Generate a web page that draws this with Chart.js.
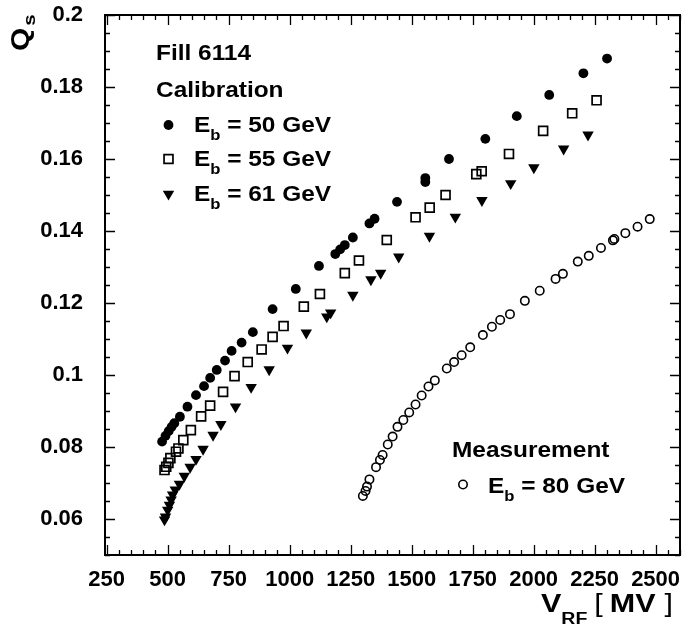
<!DOCTYPE html>
<html>
<head>
<meta charset="utf-8">
<script src="https://cdn.jsdelivr.net/npm/chart.js@4"></script>
<style>
  body { margin: 0; background: #fff; }
</style>
</head>
<body>
<canvas id="qsChart" width="688" height="630"></canvas>
<script>
// ====== data ======
// Calibration, Eb = 50 GeV
let v50 = [477,491,504,516,527,550,581,616,649,674,701,735,762,803,849,930,1025,1120,1187,1207,1226,1259,1327,1348,1440,1556,1556,1653,1802,1931,2064,2204,2301];
let q50 = [0.0815,0.0831,0.0844,0.0856,0.0866,0.0884,0.0912,0.0944,0.0969,0.0992,0.1014,0.1040,0.1067,0.1090,0.1119,0.1183,0.1239,0.1303,0.1336,0.1349,0.1361,0.1382,0.1421,0.1434,0.1481,0.1547,0.1536,0.1600,0.1656,0.1719,0.1778,0.1838,0.1879];

// Calibration, Eb = 55 GeV
let v55 = [487,494,503,511,534,544,564,595,637,674,727,774,828,885,930,975,1058,1124,1226,1284,1398,1516,1574,1639,1765,1787,1899,2039,2158,2258];
let q55 = [0.0736,0.0745,0.0756,0.0769,0.0787,0.0796,0.0819,0.0847,0.0885,0.0915,0.0953,0.0997,0.1036,0.1071,0.1106,0.1136,0.1190,0.1225,0.1283,0.1318,0.1375,0.1438,0.1465,0.1500,0.1558,0.1566,0.1614,0.1678,0.1727,0.1763];

// Calibration, Eb = 61 GeV
let v61 = [487,491,500,507,514,520,531,548,568,592,616,645,686,718,778,842,916,991,1068,1152,1168,1259,1333,1373,1447,1573,1679,1788,1906,2001,2123,2223];
let q61 = [0.0598,0.0606,0.0625,0.0639,0.0653,0.0667,0.0681,0.0697,0.0719,0.0744,0.0766,0.0794,0.0833,0.0863,0.0912,0.0966,0.1015,0.1075,0.1117,0.1162,0.1173,0.1222,0.1265,0.1283,0.1328,0.1386,0.1439,0.1485,0.1532,0.1576,0.1628,0.1667];

// Measurement, Eb = 80 GeV
let v80 = [1300,1311,1317,1327,1354,1370,1381,1402,1422,1442,1466,1490,1516,1541,1569,1595,1644,1674,1705,1740,1792,1829,1863,1903,1964,2025,2090,2120,2181,2226,2276,2325,2331,2376,2426,2476];
let q80 = [0.0664,0.0678,0.0690,0.0710,0.0744,0.0764,0.0778,0.0807,0.0829,0.0856,0.0875,0.0896,0.0918,0.0943,0.0968,0.0985,0.1018,0.1036,0.1055,0.1077,0.1111,0.1134,0.1153,0.1169,0.1206,0.1234,0.1267,0.1281,0.1315,0.1331,0.1353,0.1374,0.1378,0.1394,0.1412,0.1433];

// axis ticks
let xTicks = [250,500,750,1000,1250,1500,1750,2000,2250,2500];
let yTicks = [0.06,0.08,0.1,0.12,0.14,0.16,0.18,0.2];
let xMinorStep = 50;
let yMinorStep = 0.005;

const FONT = '"Liberation Sans", Arial, Helvetica, sans-serif';

function pts(xs, ys) {
  return xs.map((x, i) => ({ x: x, y: ys[i] }));
}

// marker styles shared by datasets and the in-plot legend
const mk50 = { pointStyle: 'circle', radius: 4.9, rotation: 0, borderWidth: 0, fill: '#000', stroke: '#000' };
const mk55 = { pointStyle: 'rect', radius: 6.3, rotation: 0, borderWidth: 1.7, fill: 'rgba(0,0,0,0)', stroke: '#000' };
const mk61 = { pointStyle: 'triangle', radius: 6.6, rotation: 180, borderWidth: 0, fill: '#000', stroke: '#000' };
const mk80 = { pointStyle: 'circle', radius: 4.2, rotation: 0, borderWidth: 1.6, fill: 'rgba(0,0,0,0)', stroke: '#000' };

function ds(label, xs, ys, m) {
  return {
    label: label,
    data: pts(xs, ys),
    showLine: false,
    pointStyle: m.pointStyle,
    pointRadius: m.radius,
    pointRotation: m.rotation,
    pointBorderWidth: m.borderWidth,
    pointBackgroundColor: m.fill,
    pointBorderColor: m.stroke,
    pointHoverRadius: m.radius
  };
}

// draw text pieces one after another (for subscripts), stretched by sx
function setFont(ctx, p) {
  ctx.font = (p.bold === false ? '' : 'bold ') + p.size + 'px ' + FONT;
}
function richWidth(ctx, parts, sx) {
  let w = 0;
  parts.forEach(p => { setFont(ctx, p); w += ctx.measureText(p.t).width * sx + (p.gap || 0); });
  return w;
}
function richText(ctx, x, y, parts, sx) {
  sx = sx || 1;
  let cx = x;
  parts.forEach(p => {
    setFont(ctx, p);
    ctx.save();
    ctx.translate(cx, y + (p.dy || 0));
    ctx.scale(sx, 1);
    ctx.fillText(p.t, 0, 0);
    ctx.restore();
    cx += ctx.measureText(p.t).width * sx + (p.gap || 0);
  });
}

function legendMarker(ctx, m, x, y) {
  ctx.save();
  ctx.fillStyle = m.fill;
  ctx.strokeStyle = m.stroke;
  ctx.lineWidth = m.borderWidth;
  Chart.helpers.drawPoint(ctx, { pointStyle: m.pointStyle, rotation: m.rotation, radius: m.radius, borderWidth: m.borderWidth }, x, y);
  ctx.restore();
}

const TX = 1.11; // ROOT's text is a bit wider than Liberation Sans

// frame, inward ticks on all four sides, texts
const rootStyle = {
  id: 'rootStyle',
  afterDatasetsDraw(chart) {
    let ctx = chart.ctx;
    let a = chart.chartArea;
    let xs = chart.scales.x, ys = chart.scales.y;
    ctx.save();
    ctx.strokeStyle = '#000';
    ctx.lineWidth = 1.3;
    ctx.beginPath();
    // x ticks (bottom and top)
    for (let v = 250; v <= xs.max + 0.001; v += xMinorStep) {
      let px = Math.round(xs.getPixelForValue(v)) + 0.5;
      let len = (v % 250 === 0) ? 10 : 5;
      ctx.moveTo(px, a.bottom); ctx.lineTo(px, a.bottom - len);
      ctx.moveTo(px, a.top); ctx.lineTo(px, a.top + len);
    }
    // y ticks (left and right)
    for (let k = 0; k <= 30; k++) {
      let v = 0.05 + k * yMinorStep;
      if (v > ys.max + 1e-9) break;
      let py = Math.round(ys.getPixelForValue(v)) + 0.5;
      let major = yTicks.some(t => Math.abs(t - v) < 1e-6);
      let len = major ? 10 : 5;
      ctx.moveTo(a.left, py); ctx.lineTo(a.left + len, py);
      ctx.moveTo(a.right, py); ctx.lineTo(a.right - len, py);
    }
    ctx.stroke();
    // frame
    ctx.lineWidth = 2;
    ctx.strokeRect(a.left, a.top, a.right - a.left, a.bottom - a.top);

    // texts
    ctx.fillStyle = '#000';
    ctx.textBaseline = 'alphabetic';
    ctx.textAlign = 'left';
    richText(ctx, 156, 60, [{ t: 'Fill 6114', size: 22 }], TX);
    richText(ctx, 156, 97, [{ t: 'Calibration', size: 22 }], TX);

    let rows = [
      { m: mk50, y: 132, txt: ' = 50 GeV' },
      { m: mk55, y: 166, txt: ' = 55 GeV' },
      { m: mk61, y: 201, txt: ' = 61 GeV' }
    ];
    rows.forEach(r => {
      legendMarker(ctx, r.m, 168.5, r.y - 7);
      ctx.fillStyle = '#000';
      richText(ctx, 194, r.y, [
        { t: 'E', size: 22 },
        { t: 'b', size: 15, dy: 8 },
        { t: r.txt, size: 22 }
      ], TX);
    });

    richText(ctx, 452, 457, [{ t: 'Measurement', size: 22 }], TX);
    legendMarker(ctx, mk80, 463, 484.5);
    ctx.fillStyle = '#000';
    richText(ctx, 488, 493, [
      { t: 'E', size: 22 },
      { t: 'b', size: 15, dy: 8 },
      { t: ' = 80 GeV', size: 22 }
    ], TX);

    // x axis title
    let parts = [
      { t: 'V', size: 25 },
      { t: 'RF', size: 16, dy: 12, gap: 7 },
      { t: '[', size: 25, bold: false, gap: 7 },
      { t: 'MV', size: 25, gap: 9 },
      { t: ']', size: 25, bold: false }
    ];
    let w = richWidth(ctx, parts, 1.22);
    richText(ctx, 673 - w, 612, parts, 1.22);

    // y axis title, rotated
    ctx.save();
    ctx.translate(29, 51);
    ctx.rotate(-Math.PI / 2);
    richText(ctx, 0, 0, [
      { t: 'Q', size: 25, gap: 2 },
      { t: 's', size: 17, dy: 6 }
    ], 1.2);
    ctx.restore();

    ctx.restore();
  }
};

let qsChart = new Chart(document.getElementById('qsChart').getContext('2d'), {
  type: 'scatter',
  data: {
    datasets: [
      ds('Eb = 50 GeV', v50, q50, mk50),
      ds('Eb = 55 GeV', v55, q55, mk55),
      ds('Eb = 61 GeV', v61, q61, mk61),
      ds('Eb = 80 GeV', v80, q80, mk80)
    ]
  },
  options: {
    responsive: false,
    animation: false,
    layout: { padding: { left: 0, top: 15, right: 5, bottom: 0 } },
    plugins: { legend: { display: false }, tooltip: { enabled: false } },
    scales: {
      x: {
        type: 'linear',
        min: 243,
        max: 2600,
        grid: { display: false },
        border: { display: false },
        ticks: {
          color: '#000',
          font: { family: FONT, size: 22, weight: 'bold' },
          padding: 4,
          maxRotation: 0,
          autoSkip: false,
          callback: v => String(v)
        },
        afterBuildTicks: s => { s.ticks = xTicks.map(v => ({ value: v })); },
        afterFit: s => { s.height = 75; s.paddingLeft = 0; s.paddingRight = 0; }
      },
      y: {
        type: 'linear',
        min: 0.05,
        max: 0.2,
        grid: { display: false },
        border: { display: false },
        ticks: {
          color: '#000',
          font: { family: FONT, size: 22, weight: 'bold' },
          padding: 14,
          autoSkip: false,
          callback: v => String(+v.toFixed(3))
        },
        afterBuildTicks: s => { s.ticks = yTicks.map(v => ({ value: v })); },
        afterFit: s => { s.width = 105; s.paddingTop = 0; s.paddingBottom = 0; }
      }
    }
  },
  plugins: [rootStyle]
});
</script>
</body>
</html>
